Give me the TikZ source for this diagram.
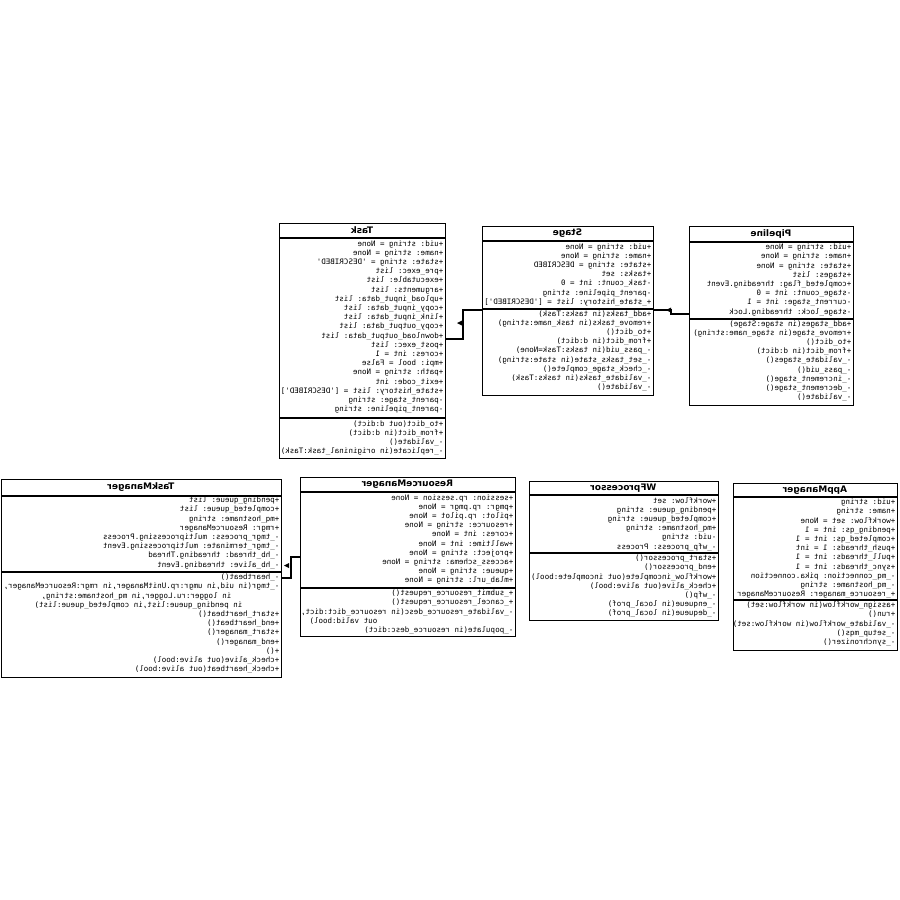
\documentclass[tikz,border=0pt]{standalone}
\usepackage{fontspec}
\usepackage{graphicx}
\setmonofont{DejaVu Sans Mono}
\setsansfont{DejaVu Sans}
% the whole class diagram is shown mirrored: every text block is reflected
\newcommand{\memberlist}[1]{\reflectbox{\begin{tabular}{@{}l@{}}#1\end{tabular}}}
\newcommand{\mirrortitle}[1]{\reflectbox{#1}}

\begin{document}
\begin{tikzpicture}[x=1pt,y=-1pt,
  classbox/.style={draw, line width=1.1pt, inner sep=0pt, anchor=north west},
  classtitle/.style={font=\sffamily\bfseries\fontsize{9}{10}\selectfont, inner sep=0pt},
  members/.style={font=\ttfamily\fontsize{7.5}{9.2}\selectfont, inner sep=0pt, anchor=north east},
  rule/.style={line width=1.1pt},
  conn/.style={line width=1.1pt},
  marker/.style={fill=black}]
\useasboundingbox[fill=white] (0,0) rectangle (900,900);

% ---------------- Task ----------------
\node[classbox, minimum width=166pt, minimum height=235pt] (task) at (279,223) {};
\node[classtitle] (tasktitle) at (362,230.5) {\mirrortitle{Task}};
\draw[rule] (task.west |- 0,238) -- (task.east |- 0,238);
\draw[rule] (task.west |- 0,418) -- (task.east |- 0,418);
\node[members] (taskattr) at (443.5,239.5) {\memberlist{%
+uid: string = None\\
+name: string = None\\
+state: string = 'DESCRIBED'\\
+pre\_exec: list\\
+executable: list\\
+arguments: list\\
+upload\_input\_data: list\\
+copy\_input\_data: list\\
+link\_input\_data: list\\
+copy\_output\_data: list\\
+download\_output\_data: list\\
+post\_exec: list\\
+cores: int = 1\\
+mpi: bool = False\\
+path: string = None\\
+exit\_code: int\\
+state\_history: list = ['DESCRIBED']\\
-parent\_stage: string\\
-parent\_pipeline: string}};
\node[members] (taskops) at (443.5,419.5) {\memberlist{%
+to\_dict(out d:dict)\\
+from\_dict(in d:dict)\\
-\_validate()\\
-\_replicate(in origininal\_task:Task)}};

% ---------------- Stage ----------------
\node[classbox, minimum width=171pt, minimum height=169pt] (stage) at (482,226) {};
\node[classtitle] (stagetitle) at (567.5,233.5) {\mirrortitle{Stage}};
\draw[rule] (stage.west |- 0,241) -- (stage.east |- 0,241);
\draw[rule] (stage.west |- 0,309) -- (stage.east |- 0,309);
\node[members] (stageattr) at (651.5,242.5) {\memberlist{%
+uid: string = None\\
+name: string = None\\
+state: string = DESCRIBED\\
+tasks: set\\
-task\_count: int = 0\\
-parent\_pipeline: string\\
+\_state\_history: list = ['DESCRIBED']}};
\node[members] (stageops) at (651.5,309.5) {\memberlist{%
+add\_tasks(in tasks:Task)\\
+remove\_tasks(in task\_name:string)\\
+to\_dict()\\
+from\_dict(in d:dict)\\
-\_pass\_uid(in tasks:Task=None)\\
-\_set\_tasks\_state(in state:string)\\
-\_check\_stage\_complete()\\
-\_validate\_tasks(in tasks:Task)\\
-\_validate()}};

% ---------------- Pipeline ----------------
\node[classbox, minimum width=164pt, minimum height=179pt] (pipeline) at (689,226) {};
\node[classtitle] (pipetitle) at (771,234) {\mirrortitle{Pipeline}};
\draw[rule] (pipeline.west |- 0,242) -- (pipeline.east |- 0,242);
\draw[rule] (pipeline.west |- 0,319) -- (pipeline.east |- 0,319);
\node[members] (pipeattr) at (851.5,243) {\memberlist{%
+uid: string = None\\
+name: string = None\\
+state: string = None\\
+stages: list\\
+completed\_flag: threading.Event\\
-stage\_count: int = 0\\
-current\_stage: int = 1\\
-stage\_lock: threading.Lock}};
\node[members] (pipeops) at (851.5,319.5) {\memberlist{%
+add\_stages(in stage:Stage)\\
+remove\_stage(in stage\_name:string)\\
+to\_dict()\\
+from\_dict(in d:dict)\\
-\_validate\_stages()\\
-\_pass\_uid()\\
-\_increment\_stage()\\
-\_decrement\_stage()\\
-\_validate()}};

% ---------------- TaskManager ----------------
\node[classbox, minimum width=280pt, minimum height=198pt] (tmgr) at (1,479) {};
\node[classtitle] (tmgrtitle) at (141,487.5) {\mirrortitle{TaskManager}};
\draw[rule] (tmgr.west |- 0,496) -- (tmgr.east |- 0,496);
\draw[rule] (tmgr.west |- 0,572) -- (tmgr.east |- 0,572);
\node[members] (tmgrattr) at (279.5,496) {\memberlist{%
+pending\_queue: list\\
+completed\_queue: list\\
+mq\_hostname: string\\
+rmgr: ResourceManager\\
-\_tmgr\_process: multiprocessing.Process\\
-\_tmgr\_terminate: multiprocessing.Event\\
-\_hb\_thread: threading.Thread\\
-\_hb\_alive: threading.Event}};
\node[members] (tmgrops) at (279.5,573) {\memberlist{%
-\_heartbeat()\\
-\_tmgr(in uid,in umgr:rp.UnitManager,in rmgr:ResourceManager,\\
\hspace*{48pt}in logger:ru.Logger,in mq\_hostname:string,\\
\hspace*{37pt}in pending\_queue:list,in completed\_queue:list)\\
+start\_heartbeat()\\
+end\_heartbeat()\\
+start\_manager()\\
+end\_manager()\\
+()\\
+check\_alive(out alive:bool)\\
+check\_heartbeat(out alive:bool)}};

% ---------------- ResourceManager ----------------
\node[classbox, minimum width=215pt, minimum height=159pt] (rmgr) at (300,477) {};
\node[classtitle] (rmgrtitle) at (407.5,484.5) {\mirrortitle{ResourceManager}};
\draw[rule] (rmgr.west |- 0,492) -- (rmgr.east |- 0,492);
\draw[rule] (rmgr.west |- 0,588) -- (rmgr.east |- 0,588);
\node[members] (rmgrattr) at (513.5,493.5) {\memberlist{%
+session: rp.session = None\\
+pmgr: rp.pmgr = None\\
+pilot: rp.pilot = None\\
+resource: string = None\\
+cores: int = None\\
+walltime: int = None\\
+project: string = None\\
+access\_schema: string = None\\
+queue: string = None\\
+mlab\_url: string = None}};
\node[members] (rmgrops) at (513.5,589) {\memberlist{%
+\_submit\_resource\_request()\\
+\_cancel\_resource\_request()\\
-\_validate\_resource\_desc(in resource\_dict:dict,\\
\hspace*{136pt}out valid:bool)\\
-\_populate(in resource\_desc:dict)}};

% ---------------- WFprocessor ----------------
\node[classbox, minimum width=189pt, minimum height=139pt] (wfp) at (529,481) {};
\node[classtitle] (wfptitle) at (623.5,488) {\mirrortitle{WFprocessor}};
\draw[rule] (wfp.west |- 0,495) -- (wfp.east |- 0,495);
\draw[rule] (wfp.west |- 0,553) -- (wfp.east |- 0,553);
\node[members] (wfpattr) at (716.5,496.5) {\memberlist{%
+workflow: set\\
+pending\_queue: string\\
+completed\_queue: string\\
+mq\_hostname: string\\
-uid: string\\
-\_wfp\_process: Process}};
\node[members] (wfpops) at (716.5,554) {\memberlist{%
+start\_processor()\\
+end\_processor()\\
+workflow\_incomplete(out incomplete:bool)\\
+check\_alive(out alive:bool)\\
-\_wfp()\\
-\_enqueue(in local\_prof)\\
-\_dequeue(in local\_prof)}};

% ---------------- AppManager ----------------
\node[classbox, minimum width=164pt, minimum height=167pt] (appm) at (733,483) {};
\node[classtitle] (appmtitle) at (815,490) {\mirrortitle{AppManager}};
\draw[rule] (appm.west |- 0,497) -- (appm.east |- 0,497);
\draw[rule] (appm.west |- 0,600) -- (appm.east |- 0,600);
\node[members] (appmattr) at (895.5,498) {\memberlist{%
+uid: string\\
+name: string\\
+workflow: set = None\\
+pending\_qs: int = 1\\
+completed\_qs: int = 1\\
+push\_threads: 1 = int\\
+pull\_threads: int = 1\\
+sync\_threads: int = 1\\
-\_mq\_connection: pika.connection\\
-\_mq\_hostname: string\\
+\_resource\_manager: ResourceManager}};
\node[members] (appmops) at (895.5,601) {\memberlist{%
+assign\_workflow(in workflow:set)\\
+run()\\
-\_validate\_workflow(in workflow:set)\\
-\_setup\_mqs()\\
-\_synchronizer()}};

% ---------------- connectors ----------------
\draw[conn] (stage.west |- 0,310) -- (463,310) -- (463,339) -- (task.east |- 0,339);
\fill[marker] (457,323) -- (462,320.5) -- (462,325.5) -- cycle;

\draw[conn] (pipeline.west |- 0,314) -- (671,314) -- (671,310) -- (stage.east |- 0,310);
\fill[marker] (666,310) -- (671,307.5) -- (671,312.5) -- cycle;

\draw[conn] (rmgr.west |- 0,557) -- (291,557) -- (291,578) -- (tmgr.east |- 0,578);
\fill[marker] (284,565.5) -- (289,563) -- (289,568) -- cycle;
\end{tikzpicture}
\end{document}
